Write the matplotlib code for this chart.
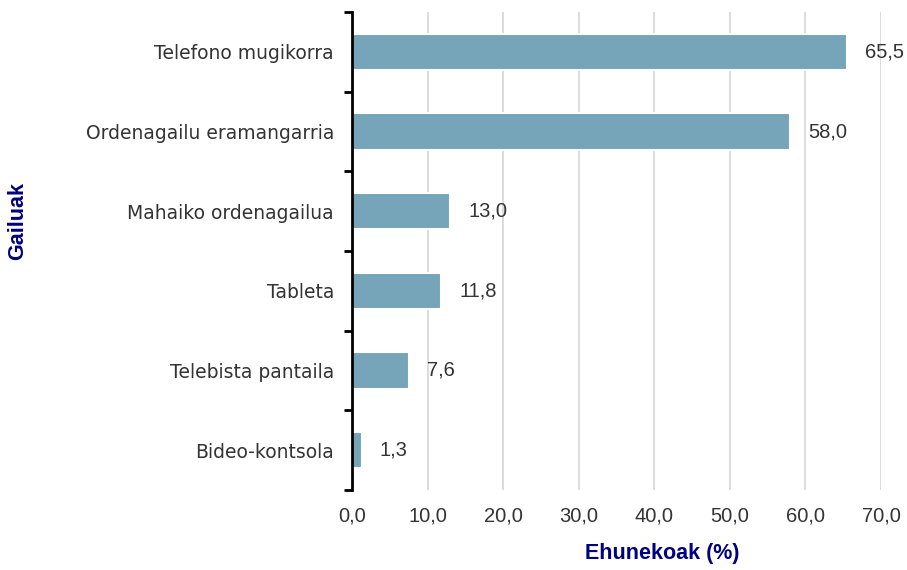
import matplotlib
matplotlib.use("Agg")
import matplotlib.pyplot as plt
import numpy as np

devices = ["Telefono mugikorra", "Ordenagailu eramangarria", "Mahaiko ordenagailua",
           "Tableta", "Telebista pantaila", "Bideo-kontsola"]
values = [65.5, 58.0, 13.0, 11.8, 7.6, 1.3]
xticks = [0, 10, 20, 30, 40, 50, 60, 70]

BAR = "#76a5b9"
NAVY = "#000080"
TXT = "#333333"

fig = plt.figure(figsize=(9.07, 5.70), dpi=100)
ax = fig.add_axes([352 / 907, 80 / 570, 529 / 907, 478 / 570])

y = np.arange(len(devices))[::-1]
ax.barh(y, values, height=0.46, color=BAR, edgecolor="white", linewidth=1.5, zorder=2)
ax.set_xlim(0, 70)
ax.set_ylim(-0.5, len(devices) - 0.5)

for yi, v in zip(y, values):
    ax.annotate(f"{v:.1f}".replace(".", ","), (v, yi), xytext=(13, 0),
                textcoords="offset points", va="center", ha="left",
                fontsize=14.5, color=TXT, family="Liberation Sans")

ax.set_xticks(xticks)
ax.set_xticklabels([f"{t:.1f}".replace(".", ",") for t in xticks],
                   fontsize=14.5, color=TXT, family="Liberation Sans")
ax.tick_params(axis="x", length=0, pad=12)
ax.grid(axis="x", color="#d9d9d9", linewidth=1.3, zorder=0)

ax.set_yticks(np.arange(-0.5, len(devices), 1.0))
ax.set_yticklabels([])
ax.tick_params(axis="y", which="major", length=6, width=2, color="black", direction="out")
ax.set_yticks(y, minor=True)
ax.set_yticklabels(devices, minor=True, fontsize=13.5, color=TXT, family="DejaVu Sans")
ax.tick_params(axis="y", which="minor", length=0, pad=13)

for s in ["top", "right", "bottom"]:
    ax.spines[s].set_visible(False)
ax.spines["left"].set_linewidth(2)
ax.spines["left"].set_zorder(3)

fig.text(662 / 907, 1 - 553 / 570, "Ehunekoak (%)", ha="center", va="center",
         fontsize=15.5, fontweight="bold", color=NAVY, family="Liberation Sans")
fig.text(18 / 907, 1 - 221 / 570, "Gailuak", ha="center", va="center", rotation=90,
         fontsize=15.5, fontweight="bold", color=NAVY, family="Liberation Sans")

fig.savefig("out.png", dpi=100, facecolor="white")
